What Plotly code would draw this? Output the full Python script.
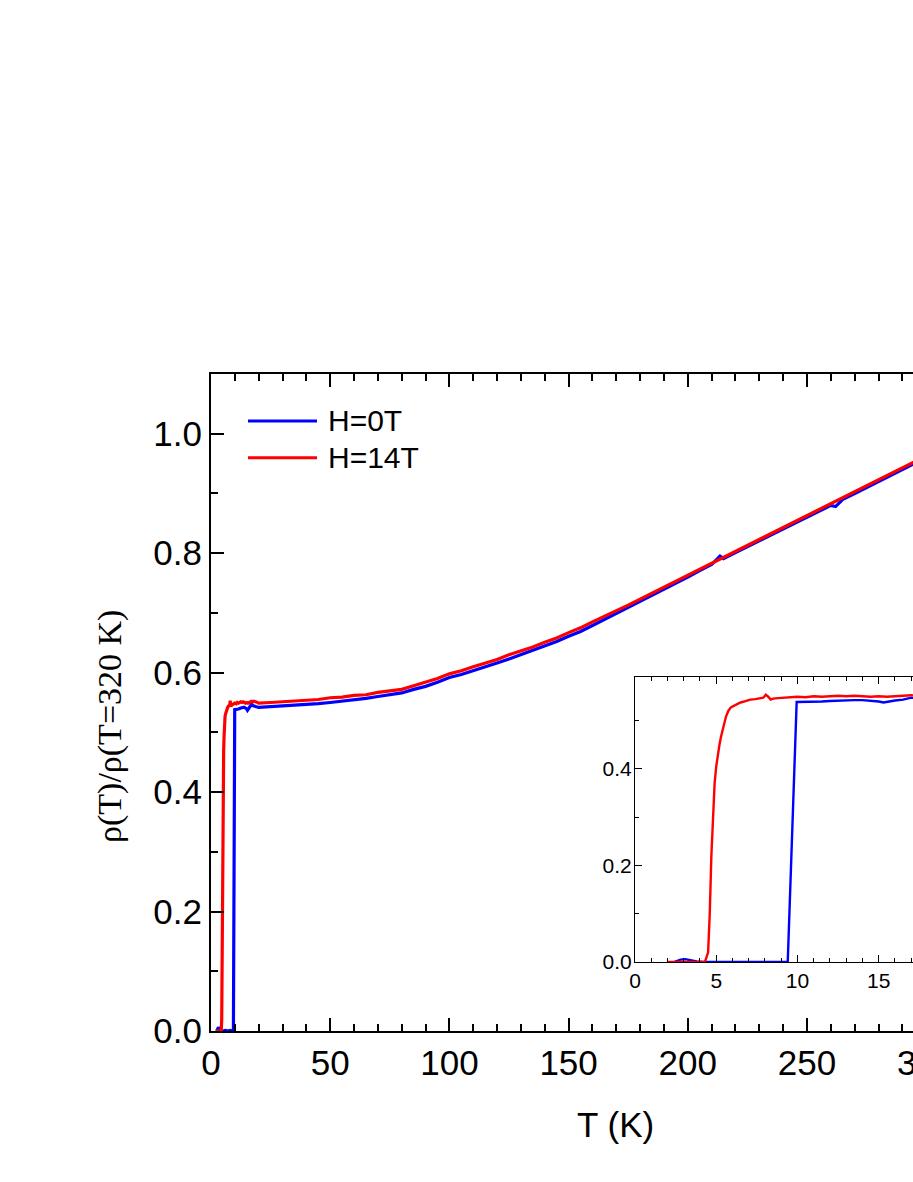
import plotly.graph_objects as go

# ---------------- data ----------------
# H = 0 T
T_0T = [2.4, 2.8, 3.1, 3.4, 3.8, 4.2, 5.0, 6.0, 7.0, 8.0, 8.8, 9.4, 9.95,
        10.5, 11.0, 11.5, 12.0, 12.5, 13.0, 13.5, 14.0, 14.5, 15.0, 15.3, 15.6,
        16.0, 16.5, 17.0, 17.5, 18.0, 19.0, 20.0,
        25, 30, 35, 40, 45, 50, 55, 60, 65, 70, 75, 80, 85, 90, 95, 100,
        105, 110, 115, 120, 125, 130, 135, 140, 145, 150, 155, 160, 165, 170,
        175, 180, 185, 190, 195, 200, 205, 210, 213.5, 215, 220, 225, 230, 235,
        240, 245, 250, 255, 260, 262, 265, 270, 275, 280, 285, 290, 295, 300]
R_0T = [0.000, 0.005, 0.006, 0.004, 0.001, 0.000, 0.000, 0.001, 0.000, 0.001, 0.000, 0.000, 0.538,
        0.538, 0.539, 0.539, 0.540, 0.541, 0.541, 0.542, 0.542, 0.541, 0.539, 0.537, 0.539,
        0.541, 0.543, 0.547, 0.545, 0.544, 0.543, 0.542,
        0.543, 0.544, 0.545, 0.546, 0.548, 0.550, 0.552, 0.555, 0.557, 0.560, 0.563, 0.566, 0.572, 0.577, 0.584, 0.592,
        0.597, 0.603, 0.610, 0.616, 0.623, 0.630, 0.637, 0.645, 0.652, 0.661, 0.669, 0.679, 0.689, 0.699,
        0.709, 0.719, 0.729, 0.739, 0.750, 0.760, 0.771, 0.781, 0.795, 0.791, 0.801, 0.811, 0.821, 0.831,
        0.841, 0.850, 0.860, 0.870, 0.880, 0.878, 0.890, 0.900, 0.910, 0.920, 0.930, 0.940, 0.950, 0.960]

# H = 14 T
T_14T = [2.0, 2.5, 3.0, 3.5, 4.0, 4.3, 4.5, 4.6, 4.7, 4.8, 4.9, 5.0, 5.1, 5.2, 5.3, 5.45,
         5.6, 5.75, 5.9, 6.2, 6.5, 6.8, 7.1, 7.4, 7.7, 7.9, 8.05, 8.2, 8.35, 8.5, 8.8, 9.1,
         9.4, 9.7, 10.0, 10.5, 11.0, 11.5, 12.0, 12.5, 13.0, 13.5, 14.0, 14.5, 15.0, 15.5,
         16.0, 16.5, 17.0, 17.5, 18.0, 19.0, 20.0,
         25, 30, 35, 40, 45, 50, 55, 60, 65, 70, 75, 80, 85, 90, 95, 100,
         105, 110, 115, 120, 125, 130, 135, 140, 145, 150, 155, 160, 165, 170,
         175, 180, 185, 190, 195, 200, 205, 210, 215, 220, 225, 230, 235,
         240, 245, 250, 255, 260, 265, 270, 275, 280, 285, 290, 295, 300]
R_14T = [0.000, 0.000, 0.001, 0.000, 0.000, 0.000, 0.020, 0.100, 0.220, 0.300, 0.370, 0.405, 0.430, 0.450, 0.467, 0.490,
         0.508, 0.520, 0.527, 0.532, 0.537, 0.540, 0.543, 0.544, 0.545, 0.547, 0.553, 0.549, 0.543, 0.545, 0.546, 0.547,
         0.548, 0.549, 0.549, 0.548, 0.550, 0.549, 0.550, 0.551, 0.550, 0.551, 0.550, 0.549, 0.550, 0.549,
         0.550, 0.551, 0.552, 0.551, 0.552, 0.551, 0.549,
         0.550, 0.551, 0.552, 0.554, 0.555, 0.558, 0.559, 0.562, 0.563, 0.567, 0.569, 0.572, 0.578, 0.584, 0.590, 0.598,
         0.603, 0.610, 0.616, 0.622, 0.630, 0.636, 0.643, 0.651, 0.658, 0.667, 0.675, 0.685, 0.694, 0.704,
         0.713, 0.723, 0.733, 0.743, 0.753, 0.763, 0.774, 0.784, 0.794, 0.804, 0.814, 0.824, 0.834,
         0.844, 0.853, 0.863, 0.873, 0.883, 0.893, 0.903, 0.913, 0.923, 0.933, 0.943, 0.953, 0.963]

series_names = ["H=0T", "H=14T"]
series_colors = ["#0000FF", "#FF0000"]

x_tickvals = [0, 50, 100, 150, 200, 250, 300]
x_ticktext = ["0", "50", "100", "150", "200", "250", "300"]
y_tickvals = [0.0, 0.2, 0.4, 0.6, 0.8, 1.0]
y_ticktext = ["0.0", "0.2", "0.4", "0.6", "0.8", "1.0"]
ix_tickvals = [0, 5, 10, 15]
ix_ticktext = ["0", "5", "10", "15"]
iy_tickvals = [0.0, 0.2, 0.4]
iy_ticktext = ["0.0", "0.2", "0.4"]

x_title = "T (K)"
y_title = "ρ(T)/ρ(T=320 K)"

# ---------------- figure ----------------
SANS = "Liberation Sans, Arial, sans-serif"
SERIF = "Liberation Serif, Times New Roman, serif"

fig = go.Figure()
data = [(T_0T, R_0T), (T_14T, R_14T)]
for (T, R), name, col in zip(data, series_names, series_colors):
    fig.add_trace(go.Scatter(x=T, y=R, mode="lines", name=name,
                             line=dict(color=col, width=3.2),
                             xaxis="x", yaxis="y", showlegend=False))
for (T, R), name, col in zip(data, series_names, series_colors):
    fig.add_trace(go.Scatter(x=T, y=R, mode="lines", name=name,
                             line=dict(color=col, width=2.4),
                             xaxis="x2", yaxis="y2", showlegend=False))

main_ax = dict(showgrid=False, zeroline=False, showline=True, linewidth=2, linecolor="black",
               ticks="inside", ticklen=13, tickwidth=2, tickcolor="black",
               tickfont=dict(family=SANS, size=35, color="black"))
inset_ax = dict(showgrid=False, zeroline=False, showline=True, linewidth=1.2, linecolor="black",
                ticks="inside", ticklen=7, tickwidth=1.2, tickcolor="black",
                tickfont=dict(family=SANS, size=21, color="black"))

fig.update_layout(
    width=913, height=1182,
    margin=dict(l=211, r=0, t=374, b=151, pad=0),
    paper_bgcolor="white", plot_bgcolor="white",
    showlegend=False,
    xaxis=dict(main_ax, domain=[0, 1], range=[0, 294.46], tickmode="array",
               tickvals=x_tickvals, ticktext=x_ticktext, mirror="ticks",
               minor=dict(tickmode="linear", tick0=0, dtick=10, ticks="inside", ticklen=7,
                          tickwidth=2, tickcolor="black", showgrid=False)),
    yaxis=dict(main_ax, domain=[0, 1], range=[0, 1.1], tickmode="array",
               tickvals=y_tickvals, ticktext=y_ticktext, mirror=False,
               minor=dict(tickmode="linear", tick0=0, dtick=0.1, ticks="inside", ticklen=7,
                          tickwidth=2, tickcolor="black", showgrid=False)),
    xaxis2=dict(inset_ax, domain=[0.604, 1.0], anchor="y2", range=[0, 17.11], tickmode="array",
                tickvals=ix_tickvals, ticktext=ix_ticktext, mirror="ticks",
                minor=dict(tickmode="linear", tick0=0, dtick=1, ticks="inside", ticklen=4,
                           tickwidth=1.2, tickcolor="black", showgrid=False)),
    yaxis2=dict(inset_ax, domain=[0.105, 0.539], anchor="x2", range=[0, 0.59], tickmode="array",
                tickvals=iy_tickvals, ticktext=iy_ticktext, mirror=False, ticklabelstandoff=-2,
                minor=dict(tickmode="linear", tick0=0, dtick=0.1, ticks="inside", ticklen=4,
                           tickwidth=1.2, tickcolor="black", showgrid=False)),
)

# legend drawn by hand (long line samples, as in the original)
leg_y = [0.9285, 0.8726]
for name, col, yy in zip(series_names, series_colors, leg_y):
    fig.add_shape(type="line", xref="paper", yref="paper", x0=0.0527, x1=0.151, y0=yy, y1=yy,
                  line=dict(color=col, width=3))
    fig.add_annotation(xref="paper", yref="paper", x=0.1638, y=yy, text=name, showarrow=False,
                       xanchor="left", yanchor="middle",
                       font=dict(family=SANS, size=30, color="black"))

# axis titles
fig.add_annotation(xref="paper", yref="paper", x=(615 - 211) / 702, y=(1031 - 1124) / 657,
                   text=x_title, showarrow=False, xanchor="center", yanchor="middle",
                   font=dict(family=SANS, size=35, color="black"))
fig.add_annotation(xref="paper", yref="paper", x=(110 - 211) / 702, y=(1031 - 727) / 657,
                   text=y_title, showarrow=False, xanchor="center", yanchor="middle", textangle=-90,
                   font=dict(family=SERIF, size=34, color="black"))
# partially visible last tick label (cut by the page edge, as in the original)
fig.add_annotation(xref="paper", yref="paper", x=(926 - 211) / 702, y=(1031 - 1062) / 657,
                   text=x_ticktext[-1], showarrow=False, xanchor="center", yanchor="middle",
                   font=dict(family=SANS, size=35, color="black"))

fig.write_html("out.html", config={"displayModeBar": False},
               post_script="document.body.style.margin='0';document.body.style.overflow='hidden';")
